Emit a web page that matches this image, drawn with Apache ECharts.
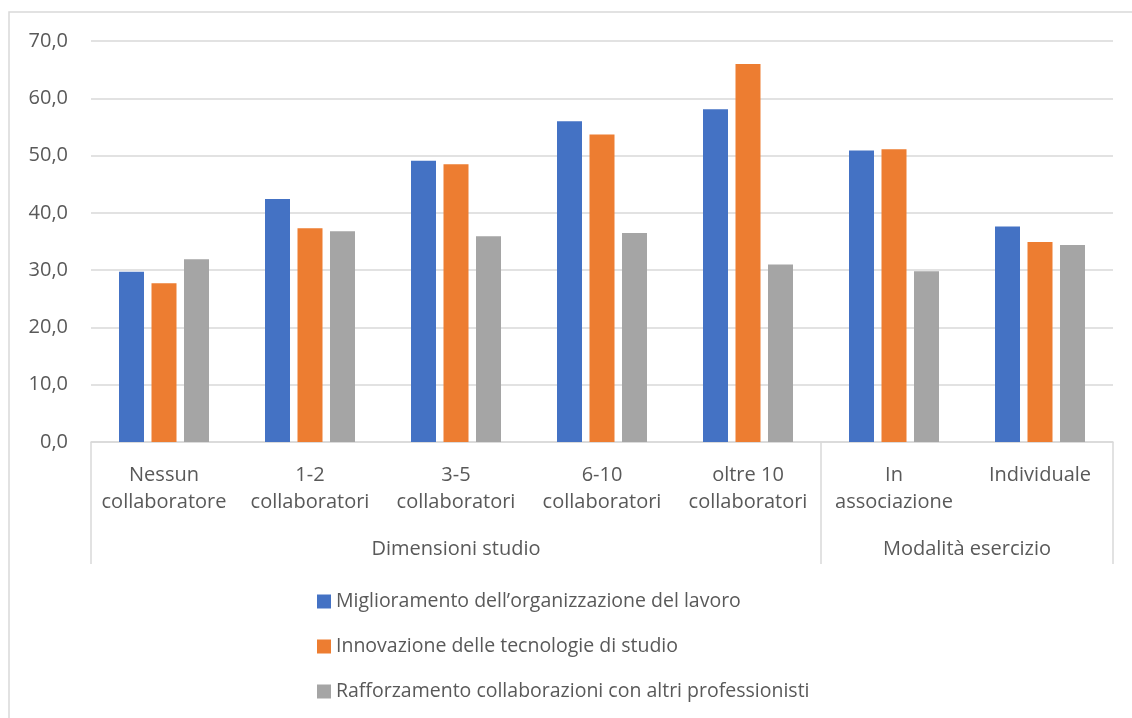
<!DOCTYPE html>
<html>
<head>
<meta charset="utf-8">
<script src="https://cdn.jsdelivr.net/npm/echarts@6/dist/echarts.min.js"></script>
<style>
  html, body { margin: 0; padding: 0; background: #fff; }
  #chart { width: 1132px; height: 718px; }
</style>
</head>
<body>
<div id="chart"></div>
<script>
// Categories (inner level) and their grouping (outer level)
const categories = [
  'Nessun\ncollaboratore',
  '1-2\ncollaboratori',
  '3-5\ncollaboratori',
  '6-10\ncollaboratori',
  'oltre 10\ncollaboratori',
  'In\nassociazione',
  'Individuale'
];
const groupNames = ['Dimensioni studio', 'Modalità esercizio'];
const groupSizes = [5, 2];

const seriesNames = [
  'Miglioramento dell\u2019organizzazione del lavoro',
  'Innovazione delle tecnologie di studio',
  'Rafforzamento collaborazioni con altri professionisti'
];
const organizzazione = [29.7, 42.4, 49.1, 56.0, 58.1, 50.9, 37.6];
const tecnologie     = [27.7, 37.3, 48.5, 53.7, 66.0, 51.1, 34.9];
const collaborazioni = [31.9, 36.8, 35.9, 36.5, 31.0, 29.8, 34.4];

const yTicks = { min: 0, max: 70, interval: 10 };

// Group boundaries and centres on a 0..N scale aligned with the category bands
const groupBounds = [0];
groupSizes.forEach(s => groupBounds.push(groupBounds[groupBounds.length - 1] + s));
const groupCenters = groupSizes.map((s, i) => groupBounds[i] + s / 2);

const FONT = 'Open Sans';
const FS_AXIS = 20;
const FS_LEGEND = 19.5;
const TXT = '#595959';
const LINE = '#d9d9d9';

const chart = echarts.init(document.getElementById('chart'), null, { renderer: 'canvas' });

function bar(name, data, color) {
  return {
    name, type: 'bar', data,
    xAxisIndex: 0, yAxisIndex: 0,
    barWidth: 25, barGap: '30%',
    itemStyle: { color },
    emphasis: { disabled: true }
  };
}

chart.setOption({
  animation: false,
  textStyle: { fontFamily: FONT },
  graphic: [{
    type: 'rect', silent: true, z: -10,
    shape: { x: 9, y: 12, width: 1200, height: 800 },
    style: { fill: '#fff', stroke: LINE, lineWidth: 1.5 }
  }],
  grid: { left: 91, right: 19, top: 41, bottom: 276 },
  legend: {
    orient: 'vertical',
    left: 317, top: 590,
    itemWidth: 14, itemHeight: 14, itemGap: 22,
    padding: 0,
    icon: 'rect',
    textStyle: { fontFamily: FONT, fontSize: FS_LEGEND, color: TXT, lineHeight: 23 },
    data: seriesNames
  },
  xAxis: [{
    type: 'category',
    data: categories,
    position: 'bottom',
    axisLine: { show: true, lineStyle: { color: LINE, width: 1.5 } },
    axisTick: { show: false },
    axisLabel: {
      interval: 0, margin: 20,
      fontFamily: FONT, fontSize: FS_AXIS, color: TXT, lineHeight: 27
    }
  }, {
    type: 'value',
    min: groupBounds[0], max: groupBounds[groupBounds.length - 1],
    position: 'bottom',
    axisLine: { show: false },
    splitLine: { show: false },
    axisTick: {
      show: true, length: 122, inside: false,
      customValues: groupBounds,
      lineStyle: { color: LINE, width: 1.5 }
    },
    axisLabel: {
      show: true, margin: 97,
      customValues: groupCenters,
      formatter: v => groupNames[groupCenters.indexOf(v)] || '',
      fontFamily: FONT, fontSize: FS_AXIS, color: TXT
    }
  }],
  yAxis: {
    type: 'value',
    min: yTicks.min, max: yTicks.max, interval: yTicks.interval,
    axisLine: { show: false },
    axisTick: { show: false },
    splitLine: { lineStyle: { color: LINE, width: 1.5 } },
    axisLabel: {
      margin: 23,
      formatter: v => v.toFixed(1).replace('.', ','),
      fontFamily: FONT, fontSize: FS_AXIS, color: TXT
    }
  },
  series: [
    bar(seriesNames[0], organizzazione, '#4472C4'),
    bar(seriesNames[1], tecnologie, '#ED7D31'),
    bar(seriesNames[2], collaborazioni, '#A5A5A5')
  ]
});
</script>
</body>
</html>
